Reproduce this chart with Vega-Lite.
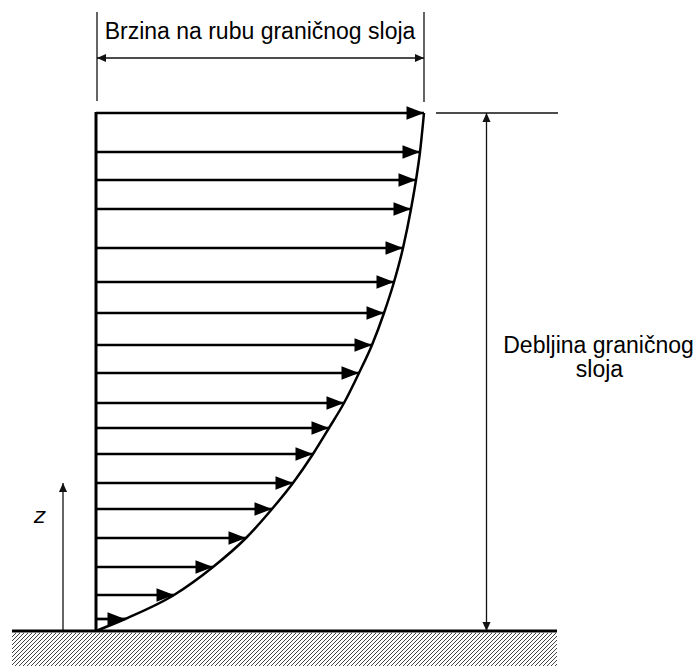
{
  "$schema": "https://vega.github.io/schema/vega-lite/v6.json",
  "width": 697,
  "height": 666,
  "autosize": {"type": "none"},
  "padding": 0,
  "background": "white",
  "config": {"view": {"stroke": null}},
  "datasets": {
    "profile": [
      {"u0": 0, "u": 0, "z": 0}, {"u0": 0, "u": 29, "z": 12}, {"u0": 0, "u": 78, "z": 36}, {"u0": 0, "u": 117, "z": 64}, {"u0": 0, "u": 150, "z": 93},
      {"u0": 0, "u": 176, "z": 122}, {"u0": 0, "u": 197, "z": 148}, {"u0": 0, "u": 217, "z": 177}, {"u0": 0, "u": 233, "z": 203}, {"u0": 0, "u": 248, "z": 228},
      {"u0": 0, "u": 263, "z": 258}, {"u0": 0, "u": 276, "z": 286}, {"u0": 0, "u": 288, "z": 318}, {"u0": 0, "u": 298, "z": 349}, {"u0": 0, "u": 307, "z": 383},
      {"u0": 0, "u": 315, "z": 422}, {"u0": 0, "u": 320, "z": 451}, {"u0": 0, "u": 324, "z": 479}, {"u0": 0, "u": 328, "z": 518}
    ],
    "hatch": [
      {"u":-84,"z":-6,"u2":-80,"z2":-2},{"u":-84,"z":-10,"u2":-76,"z2":-2},{"u":-84,"z":-14,"u2":-72,"z2":-2},{"u":-84,"z":-18,"u2":-68,"z2":-2},
      {"u":-84,"z":-22,"u2":-64,"z2":-2},{"u":-84,"z":-26,"u2":-60,"z2":-2},{"u":-84,"z":-30,"u2":-56,"z2":-2},{"u":-84,"z":-34,"u2":-52,"z2":-2},
      {"u":-81,"u2":-48,"z":-35,"z2":-2},{"u":-77,"u2":-44,"z":-35,"z2":-2},{"u":-73,"u2":-40,"z":-35,"z2":-2},{"u":-69,"u2":-36,"z":-35,"z2":-2},{"u":-65,"u2":-32,"z":-35,"z2":-2},{"u":-61,"u2":-28,"z":-35,"z2":-2},{"u":-57,"u2":-24,"z":-35,"z2":-2},{"u":-53,"u2":-20,"z":-35,"z2":-2},{"u":-49,"u2":-16,"z":-35,"z2":-2},{"u":-45,"u2":-12,"z":-35,"z2":-2},{"u":-41,"u2":-8,"z":-35,"z2":-2},{"u":-37,"u2":-4,"z":-35,"z2":-2},{"u":-33,"u2":0,"z":-35,"z2":-2},{"u":-29,"u2":4,"z":-35,"z2":-2},{"u":-25,"u2":8,"z":-35,"z2":-2},{"u":-21,"u2":12,"z":-35,"z2":-2},{"u":-17,"u2":16,"z":-35,"z2":-2},{"u":-13,"u2":20,"z":-35,"z2":-2},{"u":-9,"u2":24,"z":-35,"z2":-2},{"u":-5,"u2":28,"z":-35,"z2":-2},{"u":-1,"u2":32,"z":-35,"z2":-2},{"u":3,"u2":36,"z":-35,"z2":-2},{"u":7,"u2":40,"z":-35,"z2":-2},{"u":11,"u2":44,"z":-35,"z2":-2},{"u":15,"u2":48,"z":-35,"z2":-2},{"u":19,"u2":52,"z":-35,"z2":-2},{"u":23,"u2":56,"z":-35,"z2":-2},{"u":27,"u2":60,"z":-35,"z2":-2},{"u":31,"u2":64,"z":-35,"z2":-2},{"u":35,"u2":68,"z":-35,"z2":-2},{"u":39,"u2":72,"z":-35,"z2":-2},{"u":43,"u2":76,"z":-35,"z2":-2},{"u":47,"u2":80,"z":-35,"z2":-2},{"u":51,"u2":84,"z":-35,"z2":-2},{"u":55,"u2":88,"z":-35,"z2":-2},{"u":59,"u2":92,"z":-35,"z2":-2},{"u":63,"u2":96,"z":-35,"z2":-2},{"u":67,"u2":100,"z":-35,"z2":-2},{"u":71,"u2":104,"z":-35,"z2":-2},{"u":75,"u2":108,"z":-35,"z2":-2},{"u":79,"u2":112,"z":-35,"z2":-2},{"u":83,"u2":116,"z":-35,"z2":-2},{"u":87,"u2":120,"z":-35,"z2":-2},{"u":91,"u2":124,"z":-35,"z2":-2},{"u":95,"u2":128,"z":-35,"z2":-2},{"u":99,"u2":132,"z":-35,"z2":-2},{"u":103,"u2":136,"z":-35,"z2":-2},{"u":107,"u2":140,"z":-35,"z2":-2},{"u":111,"u2":144,"z":-35,"z2":-2},{"u":115,"u2":148,"z":-35,"z2":-2},{"u":119,"u2":152,"z":-35,"z2":-2},{"u":123,"u2":156,"z":-35,"z2":-2},{"u":127,"u2":160,"z":-35,"z2":-2},{"u":131,"u2":164,"z":-35,"z2":-2},{"u":135,"u2":168,"z":-35,"z2":-2},{"u":139,"u2":172,"z":-35,"z2":-2},{"u":143,"u2":176,"z":-35,"z2":-2},{"u":147,"u2":180,"z":-35,"z2":-2},{"u":151,"u2":184,"z":-35,"z2":-2},{"u":155,"u2":188,"z":-35,"z2":-2},{"u":159,"u2":192,"z":-35,"z2":-2},{"u":163,"u2":196,"z":-35,"z2":-2},{"u":167,"u2":200,"z":-35,"z2":-2},{"u":171,"u2":204,"z":-35,"z2":-2},{"u":175,"u2":208,"z":-35,"z2":-2},{"u":179,"u2":212,"z":-35,"z2":-2},{"u":183,"u2":216,"z":-35,"z2":-2},{"u":187,"u2":220,"z":-35,"z2":-2},{"u":191,"u2":224,"z":-35,"z2":-2},{"u":195,"u2":228,"z":-35,"z2":-2},{"u":199,"u2":232,"z":-35,"z2":-2},{"u":203,"u2":236,"z":-35,"z2":-2},{"u":207,"u2":240,"z":-35,"z2":-2},{"u":211,"u2":244,"z":-35,"z2":-2},{"u":215,"u2":248,"z":-35,"z2":-2},{"u":219,"u2":252,"z":-35,"z2":-2},{"u":223,"u2":256,"z":-35,"z2":-2},{"u":227,"u2":260,"z":-35,"z2":-2},{"u":231,"u2":264,"z":-35,"z2":-2},{"u":235,"u2":268,"z":-35,"z2":-2},{"u":239,"u2":272,"z":-35,"z2":-2},{"u":243,"u2":276,"z":-35,"z2":-2},{"u":247,"u2":280,"z":-35,"z2":-2},{"u":251,"u2":284,"z":-35,"z2":-2},{"u":255,"u2":288,"z":-35,"z2":-2},{"u":259,"u2":292,"z":-35,"z2":-2},{"u":263,"u2":296,"z":-35,"z2":-2},{"u":267,"u2":300,"z":-35,"z2":-2},{"u":271,"u2":304,"z":-35,"z2":-2},{"u":275,"u2":308,"z":-35,"z2":-2},{"u":279,"u2":312,"z":-35,"z2":-2},{"u":283,"u2":316,"z":-35,"z2":-2},{"u":287,"u2":320,"z":-35,"z2":-2},{"u":291,"u2":324,"z":-35,"z2":-2},{"u":295,"u2":328,"z":-35,"z2":-2},{"u":299,"u2":332,"z":-35,"z2":-2},{"u":303,"u2":336,"z":-35,"z2":-2},{"u":307,"u2":340,"z":-35,"z2":-2},{"u":311,"u2":344,"z":-35,"z2":-2},{"u":315,"u2":348,"z":-35,"z2":-2},{"u":319,"u2":352,"z":-35,"z2":-2},{"u":323,"u2":356,"z":-35,"z2":-2},{"u":327,"u2":360,"z":-35,"z2":-2},{"u":331,"u2":364,"z":-35,"z2":-2},{"u":335,"u2":368,"z":-35,"z2":-2},{"u":339,"u2":372,"z":-35,"z2":-2},{"u":343,"u2":376,"z":-35,"z2":-2},{"u":347,"u2":380,"z":-35,"z2":-2},{"u":351,"u2":384,"z":-35,"z2":-2},{"u":355,"u2":388,"z":-35,"z2":-2},{"u":359,"u2":392,"z":-35,"z2":-2},{"u":363,"u2":396,"z":-35,"z2":-2},{"u":367,"u2":400,"z":-35,"z2":-2},{"u":371,"u2":404,"z":-35,"z2":-2},{"u":375,"u2":408,"z":-35,"z2":-2},{"u":379,"u2":412,"z":-35,"z2":-2},{"u":383,"u2":416,"z":-35,"z2":-2},{"u":387,"u2":420,"z":-35,"z2":-2},{"u":391,"u2":424,"z":-35,"z2":-2},{"u":395,"u2":428,"z":-35,"z2":-2},{"u":399,"u2":432,"z":-35,"z2":-2},{"u":403,"u2":436,"z":-35,"z2":-2},{"u":407,"u2":440,"z":-35,"z2":-2},{"u":411,"u2":444,"z":-35,"z2":-2},{"u":415,"u2":448,"z":-35,"z2":-2},{"u":419,"u2":452,"z":-35,"z2":-2},{"u":423,"u2":456,"z":-35,"z2":-2},{"u":427,"u2":460,"z":-35,"z2":-2},
      {"u":431,"z":-35,"u2":461,"z2":-5},{"u":435,"z":-35,"u2":461,"z2":-9},{"u":439,"z":-35,"u2":461,"z2":-13},{"u":443,"z":-35,"u2":461,"z2":-17},
      {"u":447,"z":-35,"u2":461,"z2":-21},{"u":451,"z":-35,"u2":461,"z2":-25},{"u":455,"z":-35,"u2":461,"z2":-29},{"u":459,"z":-35,"u2":461,"z2":-33}
    ],
    "solid": [
      {"u": -84, "z": 0, "u2": 461, "z2": 0},
      {"u": 0, "z": 0, "u2": 0, "z2": 519}
    ],
    "dims": [
      {"u": 1, "z": 619, "u2": 1, "z2": 530},
      {"u": 328, "z": 619, "u2": 328, "z2": 529},
      {"u": 1, "z": 573, "u2": 328, "z2": 573},
      {"u": 340, "z": 518, "u2": 462, "z2": 518},
      {"u": 390.5, "z": 0, "u2": 390.5, "z2": 518},
      {"u": -33, "z": 0, "u2": -33, "z2": 148}
    ],
    "heads": [
      {"u": 1, "z": 573, "dir": "left"},
      {"u": 328, "z": 573, "dir": "right"},
      {"u": 390.5, "z": 518, "dir": "up"},
      {"u": 390.5, "z": 0, "dir": "down"},
      {"u": -33, "z": 148, "dir": "up"}
    ],
    "labels": [
      {"t": "Brzina na rubu graničnog sloja", "u": 164, "z": 592},
      {"t": "Debljina graničnog", "u": 502.5, "z": 278},
      {"t": "sloja", "u": 503.5, "z": 254}
    ],
    "axisLabel": [
      {"t": "z", "u": -56.5, "z": 108}
    ]
  },
  "layer": [
    {
      "data": {"name": "hatch"},
      "mark": {"type": "rule", "color": "#444", "strokeWidth": 1},
      "encoding": {
        "x": {"field": "u", "type": "quantitative", "scale": {"domain": [-96, 601], "nice": false, "zero": false}, "axis": null},
        "x2": {"field": "u2"},
        "y": {"field": "z", "type": "quantitative", "scale": {"domain": [-35, 631], "nice": false, "zero": false}, "axis": null},
        "y2": {"field": "z2"}
      }
    },
    {
      "data": {"name": "dims"},
      "mark": {"type": "rule", "color": "#111", "strokeWidth": 1.3},
      "encoding": {
        "x": {"field": "u", "type": "quantitative", "scale": {"domain": [-96, 601], "nice": false, "zero": false}, "axis": null},
        "x2": {"field": "u2"},
        "y": {"field": "z", "type": "quantitative", "scale": {"domain": [-35, 631], "nice": false, "zero": false}, "axis": null},
        "y2": {"field": "z2"}
      }
    },
    {
      "data": {"name": "heads"},
      "transform": [{"filter": "datum.dir === 'right'"}],
      "mark": {"type": "point", "shape": "M0,0L-1,-0.45L-1,0.45Z", "size": 324, "filled": true, "opacity": 1, "color": "#111", "strokeWidth": 0, "angle": 0},
      "encoding": {
        "x": {"field": "u", "type": "quantitative", "scale": {"domain": [-96, 601], "nice": false, "zero": false}, "axis": null},
        "y": {"field": "z", "type": "quantitative", "scale": {"domain": [-35, 631], "nice": false, "zero": false}, "axis": null}
      }
    },
    {
      "data": {"name": "heads"},
      "transform": [{"filter": "datum.dir === 'left'"}],
      "mark": {"type": "point", "shape": "M0,0L-1,-0.45L-1,0.45Z", "size": 324, "filled": true, "opacity": 1, "color": "#111", "strokeWidth": 0, "angle": 180},
      "encoding": {
        "x": {"field": "u", "type": "quantitative", "scale": {"domain": [-96, 601], "nice": false, "zero": false}, "axis": null},
        "y": {"field": "z", "type": "quantitative", "scale": {"domain": [-35, 631], "nice": false, "zero": false}, "axis": null}
      }
    },
    {
      "data": {"name": "heads"},
      "transform": [{"filter": "datum.dir === 'up'"}],
      "mark": {"type": "point", "shape": "M0,0L-1,-0.45L-1,0.45Z", "size": 324, "filled": true, "opacity": 1, "color": "#111", "strokeWidth": 0, "angle": 270},
      "encoding": {
        "x": {"field": "u", "type": "quantitative", "scale": {"domain": [-96, 601], "nice": false, "zero": false}, "axis": null},
        "y": {"field": "z", "type": "quantitative", "scale": {"domain": [-35, 631], "nice": false, "zero": false}, "axis": null}
      }
    },
    {
      "data": {"name": "heads"},
      "transform": [{"filter": "datum.dir === 'down'"}],
      "mark": {"type": "point", "shape": "M0,0L-1,-0.45L-1,0.45Z", "size": 324, "filled": true, "opacity": 1, "color": "#111", "strokeWidth": 0, "angle": 90},
      "encoding": {
        "x": {"field": "u", "type": "quantitative", "scale": {"domain": [-96, 601], "nice": false, "zero": false}, "axis": null},
        "y": {"field": "z", "type": "quantitative", "scale": {"domain": [-35, 631], "nice": false, "zero": false}, "axis": null}
      }
    },
    {
      "data": {"name": "solid"},
      "mark": {"type": "rule", "color": "black", "strokeWidth": 3},
      "encoding": {
        "x": {"field": "u", "type": "quantitative", "scale": {"domain": [-96, 601], "nice": false, "zero": false}, "axis": null},
        "x2": {"field": "u2"},
        "y": {"field": "z", "type": "quantitative", "scale": {"domain": [-35, 631], "nice": false, "zero": false}, "axis": null},
        "y2": {"field": "z2"}
      }
    },
    {
      "data": {"name": "profile"},
      "transform": [{"filter": "datum.u > 0"}],
      "mark": {"type": "rule", "color": "black", "strokeWidth": 2.7},
      "encoding": {
        "x": {"field": "u0", "type": "quantitative", "scale": {"domain": [-96, 601], "nice": false, "zero": false}, "axis": null},
        "x2": {"field": "u"},
        "y": {"field": "z", "type": "quantitative", "scale": {"domain": [-35, 631], "nice": false, "zero": false}, "axis": null},
        "y2": {"field": "z"}
      }
    },
    {
      "data": {"name": "profile"},
      "transform": [{"filter": "datum.u > 0"}],
      "mark": {"type": "point", "shape": "M0,0L-1,-0.38L-1,0.38Z", "size": 1225, "filled": true, "opacity": 1, "color": "black", "strokeWidth": 0},
      "encoding": {
        "x": {"field": "u", "type": "quantitative", "scale": {"domain": [-96, 601], "nice": false, "zero": false}, "axis": null},
        "y": {"field": "z", "type": "quantitative", "scale": {"domain": [-35, 631], "nice": false, "zero": false}, "axis": null}
      }
    },
    {
      "data": {"name": "profile"},
      "mark": {"type": "line", "color": "black", "strokeWidth": 2.5, "interpolate": "monotone"},
      "encoding": {
        "x": {"field": "u", "type": "quantitative", "scale": {"domain": [-96, 601], "nice": false, "zero": false}, "axis": null},
        "y": {"field": "z", "type": "quantitative", "scale": {"domain": [-35, 631], "nice": false, "zero": false}, "axis": null}
      }
    },
    {
      "data": {"name": "labels"},
      "mark": {"type": "text", "font": "Liberation Sans", "fontSize": 23, "align": "center", "baseline": "alphabetic", "color": "black"},
      "encoding": {
        "x": {"field": "u", "type": "quantitative", "scale": {"domain": [-96, 601], "nice": false, "zero": false}, "axis": null},
        "y": {"field": "z", "type": "quantitative", "scale": {"domain": [-35, 631], "nice": false, "zero": false}, "axis": null},
        "text": {"field": "t"}
      }
    },
    {
      "data": {"name": "axisLabel"},
      "mark": {"type": "text", "font": "DejaVu Sans", "fontStyle": "italic", "fontSize": 22, "align": "center", "baseline": "alphabetic", "color": "black"},
      "encoding": {
        "x": {"field": "u", "type": "quantitative", "scale": {"domain": [-96, 601], "nice": false, "zero": false}, "axis": null},
        "y": {"field": "z", "type": "quantitative", "scale": {"domain": [-35, 631], "nice": false, "zero": false}, "axis": null},
        "text": {"field": "t"}
      }
    }
  ]
}
